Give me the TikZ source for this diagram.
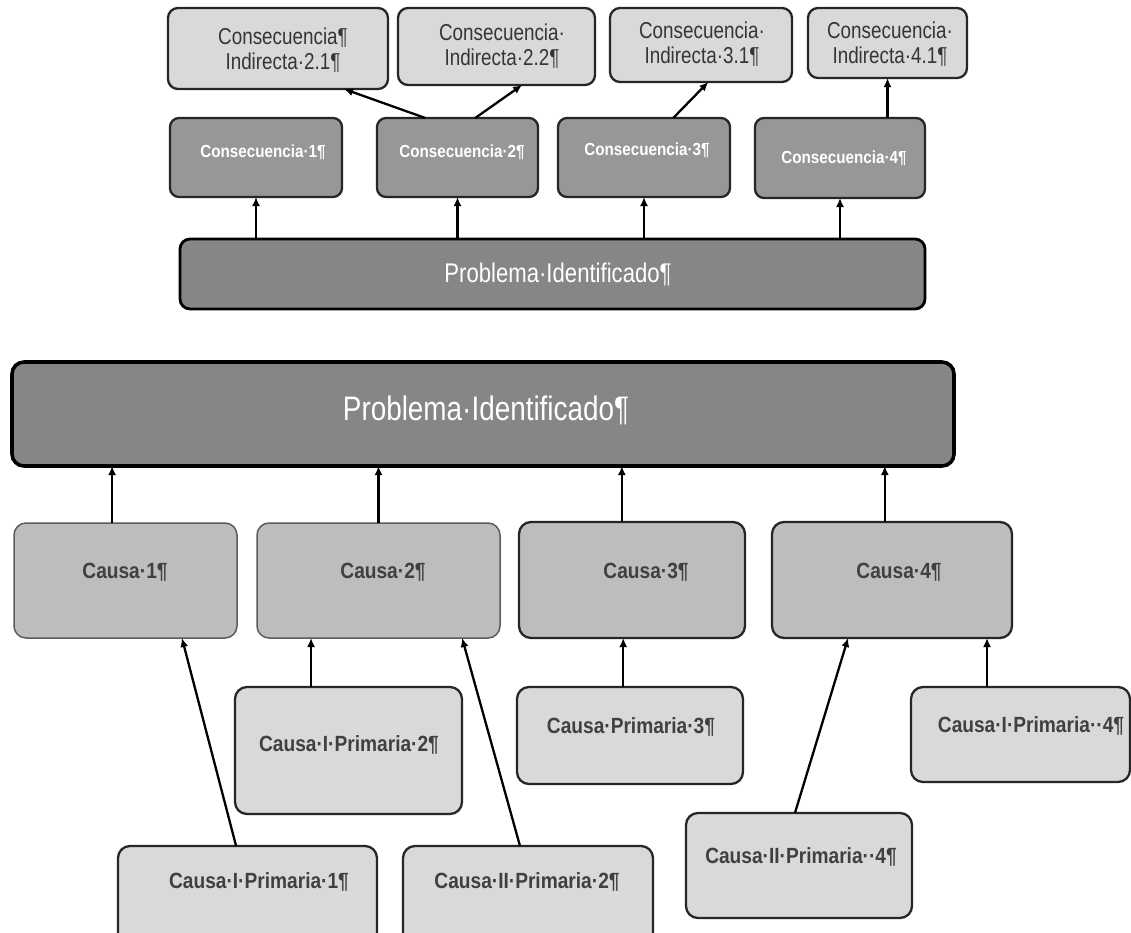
\documentclass[tikz,border=0pt]{standalone}
\usepackage{fontspec}
\setmainfont{Liberation Sans}
\newfontfamily\narrowsans[FakeStretch=0.82]{Liberation Sans}
\newfontfamily\condsans[FakeStretch=0.87]{Liberation Sans}
\usetikzlibrary{arrows.meta,calc}

\definecolor{lightfill}{HTML}{D9D9D9}
\definecolor{consfill}{HTML}{979797}
\definecolor{probfill}{HTML}{868686}
\definecolor{causefill}{HTML}{BDBDBD}
\definecolor{edgedark}{HTML}{262626}
\definecolor{edgesoft}{HTML}{5C5C5C}
\definecolor{inktext}{HTML}{353535}
\definecolor{causeink}{HTML}{404040}

\tikzset{
  box/.style={rectangle, inner sep=0pt, outer sep=0pt, anchor=north west},
  lightbox/.style={box, fill=lightfill, draw=edgedark, line width=2.3pt, rounded corners=10pt},
  consbox/.style={box, fill=consfill, draw=edgedark, line width=2.3pt, rounded corners=9pt},
  probbox/.style={box, fill=probfill, draw=black, line width=2.8pt, rounded corners=10pt},
  bigprobbox/.style={box, fill=probfill, draw=black, line width=3.6pt, rounded corners=12pt},
  softcause/.style={box, fill=causefill, draw=edgesoft, line width=1.5pt, rounded corners=12pt},
  darkcause/.style={box, fill=causefill, draw=edgedark, line width=2.3pt, rounded corners=12pt},
  citext/.style={inner sep=0pt, align=center, text=inktext,
    font=\narrowsans\fontsize{23}{25}\selectfont},
  constext/.style={inner sep=0pt, text=white,
    font=\condsans\bfseries\fontsize{17.5}{20}\selectfont},
  probtext/.style={inner sep=0pt, text=white,
    font=\narrowsans\fontsize{27}{30}\selectfont},
  bigprobtext/.style={inner sep=0pt, text=white,
    font=\narrowsans\fontsize{34}{38}\selectfont},
  causetext/.style={inner sep=0pt, text=causeink,
    font=\condsans\bfseries\fontsize{22}{25}\selectfont},
  arr/.style={draw=black, line width=2.3pt, -{Latex[length=9pt,width=8pt]}},
}

\begin{document}
\begin{tikzpicture}[x=1pt,y=-1pt]
\useasboundingbox (0,0) rectangle (1131,932);
\clip (0,0) rectangle (1131,932);
\fill[white] (0,0) rectangle (1131,932);

% ---------- consequence tree ----------
\node[lightbox, minimum width=220pt, minimum height=81pt] (ci21) at (168,8) {};
\node[lightbox, minimum width=197pt, minimum height=77pt] (ci22) at (398,8) {};
\node[lightbox, minimum width=182pt, minimum height=74pt] (ci31) at (610,8) {};
\node[lightbox, minimum width=159pt, minimum height=70pt] (ci41) at (808,8) {};

\node[citext] (ci21t) at (283,50) {Consecuencia¶\\Indirecta·2.1¶};
\node[citext] (ci22t) at (502,46) {Consecuencia·\\Indirecta·2.2¶};
\node[citext] (ci31t) at (702,44) {Consecuencia·\\Indirecta·3.1¶};
\node[citext] (ci41t) at (890,44) {Consecuencia·\\Indirecta·4.1¶};

\node[consbox, minimum width=172pt, minimum height=79pt] (cons1) at (170,118) {};
\node[consbox, minimum width=161pt, minimum height=79pt] (cons2) at (377,118) {};
\node[consbox, minimum width=172pt, minimum height=79pt] (cons3) at (558,118) {};
\node[consbox, minimum width=170pt, minimum height=80pt] (cons4) at (755,118) {};

\node[constext] (cons1t) at (263,152) {Consecuencia·1¶};
\node[constext] (cons2t) at (462,152) {Consecuencia·2¶};
\node[constext] (cons3t) at (647,150) {Consecuencia·3¶};
\node[constext] (cons4t) at (844,158) {Consecuencia·4¶};

\node[probbox, minimum width=745pt, minimum height=70pt] (prob1) at (180,239) {};
\node[probtext] (prob1t) at (558,274) {Problema·Identificado¶};

\foreach \c in {cons1,cons2,cons3,cons4}
  \draw[arr] (prob1.north -| \c.south) -- (\c.south);

\draw[arr] ($(cons2.north west)!0.30!(cons2.north east)$) -- ($(ci21.south west)!0.80!(ci21.south east)$);
\draw[arr] ($(cons2.north west)!0.61!(cons2.north east)$) -- ($(ci22.south west)!0.63!(ci22.south east)$);
\draw[arr] ($(cons3.north west)!0.67!(cons3.north east)$) -- ($(ci31.south west)!0.54!(ci31.south east)$);
\draw[arr] (ci41.south |- cons4.north) -- (ci41.south);

% ---------- cause tree ----------
\node[bigprobbox, minimum width=942pt, minimum height=104pt] (prob2) at (12,362) {};
\node[bigprobtext] (prob2t) at (486,410) {Problema·Identificado¶};

\node[softcause, minimum width=223pt, minimum height=115pt] (causa1) at (14,523) {};
\node[softcause, minimum width=243pt, minimum height=115pt] (causa2) at (257,523) {};
\node[darkcause, minimum width=226pt, minimum height=116pt] (causa3) at (519,522) {};
\node[darkcause, minimum width=240pt, minimum height=116pt] (causa4) at (772,522) {};

\node[causetext] (causa1t) at (125,572) {Causa·1¶};
\node[causetext] (causa2t) at (383,572) {Causa·2¶};
\node[causetext] (causa3t) at (646,572) {Causa·3¶};
\node[causetext] (causa4t) at (899,572) {Causa·4¶};

\node[lightbox, rounded corners=12pt, minimum width=227pt, minimum height=127pt] (cip2) at (235,687) {};
\node[lightbox, rounded corners=12pt, minimum width=226pt, minimum height=97pt] (cp3) at (517,687) {};
\node[lightbox, rounded corners=12pt, minimum width=219pt, minimum height=95pt] (cip4) at (911,687) {};
\node[lightbox, rounded corners=12pt, minimum width=226pt, minimum height=105pt] (ciip4) at (686,813) {};
\node[lightbox, rounded corners=12pt, minimum width=259pt, minimum height=100pt] (cip1) at (118,846) {};
\node[lightbox, rounded corners=12pt, minimum width=250pt, minimum height=100pt] (ciip2) at (403,846) {};

\node[causetext] (cip2t) at (349,745) {Causa·I·Primaria·2¶};
\node[causetext] (cp3t) at (631,727) {Causa·Primaria·3¶};
\node[causetext] (cip4t) at (1031,726) {Causa·I·Primaria··4¶};
\node[causetext] (ciip4t) at (801,857) {Causa·II·Primaria··4¶};
\node[causetext] (cip1t) at (259,882) {Causa·I·Primaria·1¶};
\node[causetext] (ciip2t) at (527,882) {Causa·II·Primaria·2¶};

% causes up to the problem
\coordinate (c1top) at ($(causa1.north west)!0.44!(causa1.north east)$);
\coordinate (c3top) at ($(causa3.north west)!0.455!(causa3.north east)$);
\coordinate (c4top) at ($(causa4.north west)!0.47!(causa4.north east)$);
\draw[arr] (c1top) -- (c1top |- prob2.south);
\draw[arr] (causa2.north) -- (causa2.north |- prob2.south);
\draw[arr] (c3top) -- (c3top |- prob2.south);
\draw[arr] (c4top) -- (c4top |- prob2.south);

% primary causes up to their causes
\draw[arr] ($(cip1.north west)!0.456!(cip1.north east)$) -- ($(causa1.south west)!0.753!(causa1.south east)$);
\coordinate (cip2top) at ($(cip2.north west)!0.335!(cip2.north east)$);
\draw[arr] (cip2top) -- (cip2top |- causa2.south);
\draw[arr] ($(ciip2.north west)!0.468!(ciip2.north east)$) -- ($(causa2.south west)!0.844!(causa2.south east)$);
\coordinate (cp3top) at ($(cp3.north west)!0.47!(cp3.north east)$);
\draw[arr] (cp3top) -- (cp3top |- causa3.south);
\draw[arr] ($(ciip4.north west)!0.482!(ciip4.north east)$) -- ($(causa4.south west)!0.317!(causa4.south east)$);
\coordinate (cip4top) at ($(cip4.north west)!0.347!(cip4.north east)$);
\draw[arr] (cip4top) -- (cip4top |- causa4.south);
\end{tikzpicture}
\end{document}
